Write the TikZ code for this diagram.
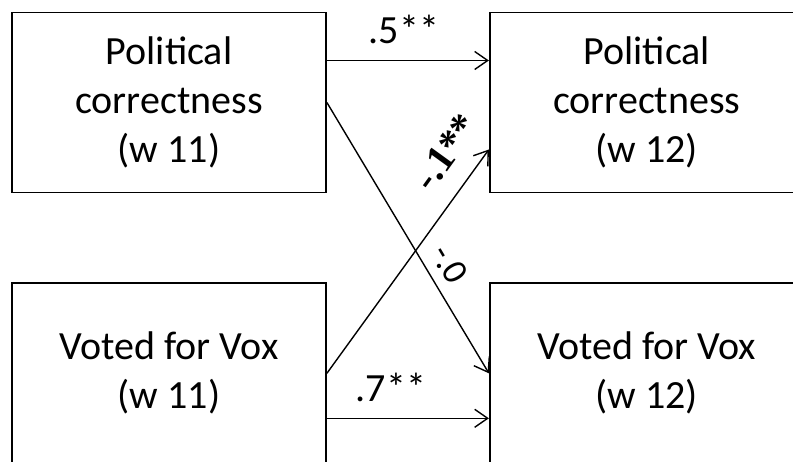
\documentclass[tikz,border=0pt]{standalone}
\usepackage{fontspec}
\setmainfont{Carlito}
\newfontfamily\coeffont{Liberation Serif}
\usetikzlibrary{arrows.meta,positioning}

\begin{document}
\begin{tikzpicture}[x=1pt, y=1pt,
  box/.style={draw, line width=1.8pt, align=center, font=\fontsize{40}{49}\selectfont,
              minimum width=314pt, minimum height=180pt, inner sep=0pt},
  arr/.style={-{Straight Barb[length=13pt, width=18pt]}, line width=1.4pt},
  lbl/.style={font=\fontsize{40}{48}\selectfont, inner sep=0pt},
  slbl/.style={font=\fontsize{36}{44}\selectfont, inner xsep=0pt, sloped, above}]
  \path[use as bounding box, clip] (0,0) rectangle (793,461);
  \node[box] (pc11) at (169,358.5) {Political\\ correctness\\ (w 11)};
  \node[box, right=162pt of pc11] (pc12) {Political\\ correctness\\ (w 12)};
  \node[box, below=89pt of pc11] (vox11) {Voted for Vox\\ (w 11)};
  \node[box, right=162pt of vox11] (vox12) {Voted for Vox\\ (w 12)};
  \draw[arr] ([yshift=42pt]pc11.east) -- ([yshift=42pt]pc12.west)
    node[lbl, midway, above=16pt, xshift=-4pt] {.5**};
  \draw[arr] (pc11.east) -- (vox12.west)
    node[slbl, pos=0.64, inner ysep=10pt] {-.0};
  \draw[arr] (vox11.east) -- ([yshift=-47pt]pc12.west)
    node[slbl, pos=0.9, inner ysep=19pt, font=\coeffont\bfseries\fontsize{40}{46}\selectfont] {-.1**};
  \draw[arr] ([yshift=-45pt]vox11.east) -- ([yshift=-45pt]vox12.west)
    node[lbl, midway, above=16pt, xshift=-17pt] {.7**};
\end{tikzpicture}
\end{document}
